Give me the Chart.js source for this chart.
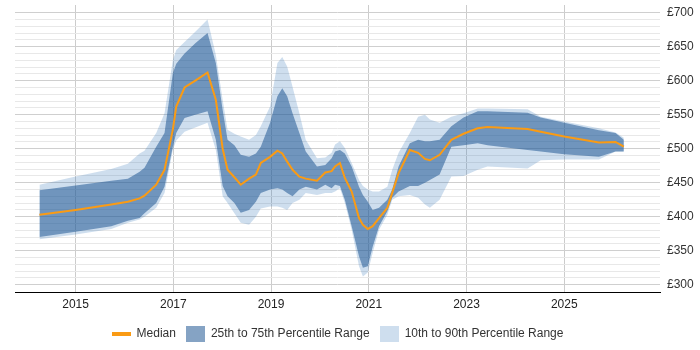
<!DOCTYPE html>
<html>
<head>
<meta charset="utf-8">
<script src="https://cdn.jsdelivr.net/npm/chart.js@4"></script>
<style>
  body { margin: 0; background: #fff; }
</style>
</head>
<body>
<canvas id="myChart" width="700" height="350"></canvas>
<script>
// Dates as decimal years
const years = [2014.26, 2015.0, 2015.73, 2016.07, 2016.31, 2016.41, 2016.65, 2016.82, 2016.99, 2017.06,
  2017.23, 2017.45, 2017.70, 2017.87, 2018.01, 2018.11, 2018.25, 2018.38, 2018.55, 2018.69,
  2018.79, 2018.98, 2019.13, 2019.23, 2019.33, 2019.44, 2019.58, 2019.71, 2019.94, 2020.11,
  2020.24, 2020.31, 2020.41, 2020.51, 2020.65, 2020.80, 2020.88, 2020.98, 2021.08, 2021.21,
  2021.38, 2021.48, 2021.61, 2021.84, 2022.01, 2022.15, 2022.25, 2022.45, 2022.69, 2022.94,
  2023.23, 2023.43, 2024.25, 2024.52, 2025.0, 2025.71, 2026.05, 2026.22];

const median = [403, 410, 418, 422, 427, 431, 447, 469, 528, 562,
  590, 600, 612, 572, 500, 469, 458, 447, 456, 462,
  479, 488, 497, 493, 481, 469, 459, 456, 453, 465,
  467, 474, 479, 457, 437, 398, 388, 382, 386, 398,
  413, 435, 464, 498, 494, 485, 483, 491, 513, 522,
  530, 532, 529, 525, 518, 509, 510, 503];

const p75 = [439, 446, 453, 456, 466, 472, 503, 523, 611, 625,
  640, 655, 670, 626, 557, 513, 505, 491, 488, 493,
  503, 538, 577, 589, 577, 552, 523, 496, 474, 476,
  486, 496, 498, 493, 474, 444, 432, 422, 410, 413,
  425, 440, 474, 508, 513, 511, 511, 513, 533, 546,
  555, 555, 553, 546, 538, 527, 523, 513];

const p25 = [370, 378, 386, 394, 398, 405, 420, 444, 503, 523,
  545, 550, 555, 513, 445, 430, 420, 406, 410, 422,
  435, 440, 442, 440, 435, 430, 440, 444, 440, 447,
  442, 447, 445, 425, 386, 342, 325, 327, 356, 386,
  408, 428, 437, 445, 445, 450, 454, 462, 503, 505,
  508, 505, 498, 496, 492, 488, 496, 496];

const p90 = [447, 459, 470, 478, 493, 497, 523, 552, 630, 645,
  657, 672, 690, 638, 572, 528, 522, 518, 513, 520,
  533, 562, 626, 635, 621, 591, 552, 513, 486, 487,
  494, 506, 511, 501, 479, 454, 445, 440, 437, 437,
  444, 469, 494, 523, 547, 550, 543, 538, 547, 552,
  559, 559, 558, 547, 540, 530, 524, 516];

const p10 = [367, 374, 382, 391, 396, 400, 413, 435, 498, 512,
  525, 531, 538, 498, 430, 420, 405, 391, 388, 400,
  412, 415, 415, 413, 410, 420, 425, 435, 432, 435,
  435, 437, 442, 420, 381, 327, 312, 318, 347, 381,
  403, 425, 430, 432, 428, 418, 413, 425, 459, 460,
  469, 474, 471, 483, 484, 484, 496, 496];

const xTicks = [2015, 2017, 2019, 2021, 2023, 2025];
const yLabels = [300, 350, 400, 450, 500, 550, 600, 650, 700];

const ORANGE = 'rgb(250,155,20)';
const DARK = 'rgba(37,91,150,0.56)';
const LIGHT = 'rgba(51,116,186,0.24)';
const FONT = 'Arial, "Liberation Sans", sans-serif';

const pts = (vals) => years.map((y, i) => ({ x: y, y: vals[i] }));

// legend markers
function swatch(color, isLine) {
  const c = document.createElement('canvas');
  c.width = 19;
  c.height = 16;
  const g = c.getContext('2d');
  g.fillStyle = color;
  if (isLine) g.fillRect(0, 6, 19, 4);
  else g.fillRect(0, 0, 19, 16);
  return c;
}

const minorGrid = [];
for (let v = yLabels[0]; v <= yLabels[yLabels.length - 1]; v += 10) minorGrid.push(v);

// centre the legend under the plot area rather than the whole canvas
const legendShift = {
  id: 'legendShift',
  afterLayout(chart) {
    const a = chart.chartArea;
    const mid = (a.left + a.right) / 2;
    const lg = chart.legend;
    const d = mid - (lg.left + lg.right) / 2;
    lg.left += d;
    lg.right += d;
  }
};

const ctx = document.getElementById('myChart');

new Chart(ctx, {
  type: 'line',
  data: {
    datasets: [
      { label: 'Median', data: pts(median), borderColor: ORANGE, borderWidth: 2,
        pointRadius: 0, fill: false, tension: 0 },
      { label: '25th to 75th Percentile Range', data: pts(p75), borderWidth: 0,
        borderColor: 'transparent', backgroundColor: DARK, pointRadius: 0, fill: '+1', tension: 0 },
      { label: 'p25', data: pts(p25), borderWidth: 0, borderColor: 'transparent',
        pointRadius: 0, fill: false, tension: 0 },
      { label: '10th to 90th Percentile Range', data: pts(p90), borderWidth: 0,
        borderColor: 'transparent', backgroundColor: LIGHT, pointRadius: 0, fill: '+1', tension: 0 },
      { label: 'p10', data: pts(p10), borderWidth: 0, borderColor: 'transparent',
        pointRadius: 0, fill: false, tension: 0 }
    ]
  },
  plugins: [legendShift],
  options: {
    responsive: false,
    animation: false,
    events: [],
    layout: { padding: { left: 15, right: 0, top: 5, bottom: 0 } },
    plugins: {
      tooltip: { enabled: false },
      legend: {
        position: 'bottom',
        labels: {
          usePointStyle: true,
          pointStyleWidth: 19,
          padding: 10,
          color: '#333',
          font: { family: FONT, size: 12 },
          generateLabels: () => [
            { text: 'Median', pointStyle: swatch(ORANGE, true), fillStyle: ORANGE,
              strokeStyle: ORANGE, lineWidth: 0, hidden: false, datasetIndex: 0, fontColor: '#333' },
            { text: '25th to 75th Percentile Range', pointStyle: swatch(DARK, false), fillStyle: DARK,
              strokeStyle: DARK, lineWidth: 0, hidden: false, datasetIndex: 1, fontColor: '#333' },
            { text: '10th to 90th Percentile Range', pointStyle: swatch(LIGHT, false), fillStyle: LIGHT,
              strokeStyle: LIGHT, lineWidth: 0, hidden: false, datasetIndex: 3, fontColor: '#333' }
          ]
        }
      }
    },
    scales: {
      x: {
        type: 'linear',
        min: 2013.76,
        max: 2026.96,
        afterBuildTicks: (axis) => { axis.ticks = xTicks.map(v => ({ value: v })); },
        afterFit: (axis) => { axis.height = 26; axis.paddingLeft = 0; axis.paddingRight = 0; },
        ticks: {
          autoSkip: false,
          maxRotation: 0,
          padding: 5,
          color: '#222',
          font: { family: FONT, size: 12 },
          callback: (v) => String(v)
        },
        grid: { color: '#cccccc', drawTicks: false },
        border: { color: '#000', width: 1 }
      },
      y: {
        position: 'right',
        min: 289.3,
        max: 711.3,
        afterBuildTicks: (axis) => { axis.ticks = minorGrid.map(v => ({ value: v })); },
        afterFit: (axis) => { axis.width = 40; axis.paddingTop = 0; axis.paddingBottom = 0; },
        ticks: {
          autoSkip: false,
          crossAlign: 'near',
          padding: 7,
          color: '#333',
          font: { family: FONT, size: 12 },
          callback: (v) => yLabels.includes(v) ? '£' + v : ''
        },
        grid: {
          drawTicks: false,
          color: (c) => (c.tick && yLabels.includes(c.tick.value)) ? '#cfcfcf' : '#e8e8e8'
        },
        border: { display: false }
      }
    }
  }
});
</script>
</body>
</html>
